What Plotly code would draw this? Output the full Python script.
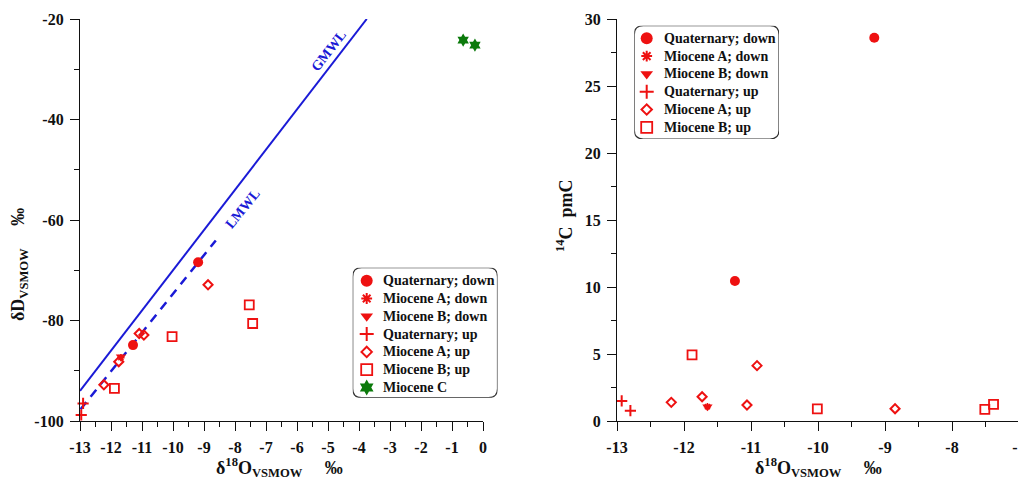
import plotly.graph_objects as go

# page body has an 8px margin, so the figure is sized to fill the rest of the window
OFF = 8
FW, FH = 1026 - OFF, 480 - OFF

# ---------------- data: left panel (delta18O vs deltaD, permil) ----------------
Q_DOWN_O18 = [-11.29, -9.19]
Q_DOWN_D = [-84.9, -68.4]
MA_DOWN_O18 = [-11.68]
MA_DOWN_D = [-87.4]
MB_DOWN_O18 = [-11.68]
MB_DOWN_D = [-87.2]
Q_UP_O18 = [-12.90, -12.96]
Q_UP_D = [-96.5, -98.8]
MA_UP_O18 = [-12.23, -11.75, -11.09, -10.94, -8.87]
MA_UP_D = [-92.8, -88.2, -82.6, -82.9, -72.9]
MB_UP_O18 = [-11.89, -10.03, -7.54, -7.43]
MB_UP_D = [-93.5, -83.2, -76.9, -80.6]
MC_O18 = [-0.64, -0.26]
MC_D = [-24.2, -25.2]

# meteoric water lines (deltaD = slope * delta18O + intercept)
GMWL_SLOPE, GMWL_INTERCEPT = 8.0, 10.0
GMWL_O18 = [-13.0, -3.75]
LMWL_SLOPE, LMWL_INTERCEPT = 7.7, 2.3
LMWL_O18 = [-12.98, -8.62]

# ---------------- data: right panel (delta18O vs 14C, pmC) ----------------
C_Q_DOWN_O18 = [-11.24, -9.16]
C_Q_DOWN = [10.45, 28.6]
C_MA_DOWN_O18 = [-11.65]
C_MA_DOWN = [1.07]
C_MB_DOWN_O18 = [-11.65]
C_MB_DOWN = [1.07]
C_Q_UP_O18 = [-12.93, -12.80]
C_Q_UP = [1.5, 0.77]
C_MA_UP_O18 = [-12.19, -11.73, -11.06, -10.91, -8.85]
C_MA_UP = [1.39, 1.81, 1.19, 4.13, 0.92]
C_MB_UP_O18 = [-11.88, -10.01, -7.51, -7.38]
C_MB_UP = [4.93, 0.90, 0.87, 1.24]

# ticks
LEFT_X_TICKS = list(range(-13, 1))
LEFT_Y_TICKS = [-100, -80, -60, -40, -20]
RIGHT_X_TICKS = list(range(-13, -6))
RIGHT_Y_TICKS = [0, 5, 10, 15, 20, 25, 30]

GROUP_NAMES = ["Quaternary; down", "Miocene A; down", "Miocene B; down",
               "Quaternary; up", "Miocene A; up", "Miocene B; up", "Miocene C"]

# ---------------- styles ----------------
RED = "#ee1111"
GREEN = "#0b7a0b"
BLUE = "#1a1ad6"
FONT = "Liberation Serif"

STYLE = {
    "Quaternary; down": dict(symbol="circle", size=10, color=RED, line=dict(width=0, color=RED)),
    "Miocene A; down": dict(symbol="asterisk-open", size=6, color=RED, line=dict(width=1.6, color=RED)),
    "Miocene B; down": dict(symbol="triangle-down", size=9, color=RED, line=dict(width=0, color=RED)),
    "Quaternary; up": dict(symbol="cross-thin-open", size=8, color=RED, line=dict(width=2, color=RED)),
    "Miocene A; up": dict(symbol="diamond-open", size=7, color=RED, line=dict(width=2, color=RED)),
    "Miocene B; up": dict(symbol="square-open", size=9, color=RED, line=dict(width=1.8, color=RED)),
    "Miocene C": dict(symbol="hexagram", size=10, color=GREEN, line=dict(width=0, color=GREEN)),
}
LEGEND_SIZE = {"Quaternary; down": 12, "Miocene A; down": 9, "Miocene B; down": 11,
               "Quaternary; up": 10, "Miocene A; up": 8, "Miocene B; up": 11, "Miocene C": 12}


def px_x(p):
    return (p - OFF) / FW


def px_y(p):
    return 1 - (p - OFF) / FH


fig = go.Figure()

# meteoric water lines
fig.add_trace(go.Scatter(x=GMWL_O18, y=[GMWL_SLOPE * v + GMWL_INTERCEPT for v in GMWL_O18],
                         mode="lines", line=dict(color=BLUE, width=2), showlegend=False,
                         xaxis="x", yaxis="y", hoverinfo="skip"))
fig.add_trace(go.Scatter(x=LMWL_O18, y=[LMWL_SLOPE * v + LMWL_INTERCEPT for v in LMWL_O18],
                         mode="lines", line=dict(color=BLUE, width=2.5, dash="9px,7px"), showlegend=False,
                         xaxis="x", yaxis="y", hoverinfo="skip"))

left_series = [
    ("Quaternary; down", Q_DOWN_O18, Q_DOWN_D),
    ("Miocene A; down", MA_DOWN_O18, MA_DOWN_D),
    ("Miocene B; down", MB_DOWN_O18, MB_DOWN_D),
    ("Quaternary; up", Q_UP_O18, Q_UP_D),
    ("Miocene A; up", MA_UP_O18, MA_UP_D),
    ("Miocene B; up", MB_UP_O18, MB_UP_D),
    ("Miocene C", MC_O18, MC_D),
]
right_series = [
    ("Quaternary; down", C_Q_DOWN_O18, C_Q_DOWN),
    ("Miocene A; down", C_MA_DOWN_O18, C_MA_DOWN),
    ("Miocene B; down", C_MB_DOWN_O18, C_MB_DOWN),
    ("Quaternary; up", C_Q_UP_O18, C_Q_UP),
    ("Miocene A; up", C_MA_UP_O18, C_MA_UP),
    ("Miocene B; up", C_MB_UP_O18, C_MB_UP),
]

for name, xs, ys in left_series:
    fig.add_trace(go.Scatter(x=xs, y=ys, mode="markers", name=name, marker=STYLE[name],
                             xaxis="x", yaxis="y", showlegend=False, cliponaxis=False))
for name, xs, ys in right_series:
    fig.add_trace(go.Scatter(x=xs, y=ys, mode="markers", name=name, marker=STYLE[name],
                             xaxis="x2", yaxis="y2", showlegend=False, cliponaxis=False))

# ---------------- legends (boxes drawn in their own pixel-unit axes) ----------------
LEG_ROW = 17.8
LEG_BOXES = [  # (xaxis, yaxis, left, top, right, bottom, first row centre, marker x, text x, n)
    ("x3", "y3", 352.7, 267.7, 497.5, 397.7, 13.0, 14.0, 28.0, 7),
    ("x4", "y4", 634.3, 25.7, 779.0, 139.0, 12.6, 12.4, 27.4, 6),
]
shapes = []
annotations = []
for xa, ya, l, t, r, b, first, mx, tx, n in LEG_BOXES:
    w, h = r - l, b - t
    rad = 9
    path = (f"M {rad},0 L {w - rad},0 Q {w},0 {w},{rad} L {w},{h - rad} Q {w},{h} {w - rad},{h} "
            f"L {rad},{h} Q 0,{h} 0,{h - rad} L 0,{rad} Q 0,0 {rad},0 Z")
    shapes.append(dict(type="path", path=path, xref=xa, yref=ya,
                       line=dict(color="#333333", width=1.2), fillcolor="rgba(0,0,0,0)"))
    for i, name in enumerate(GROUP_NAMES[:n]):
        st = dict(STYLE[name])
        st["size"] = LEGEND_SIZE[name]
        if name == "Miocene A; down":
            st["line"] = dict(width=2, color=RED)
        fig.add_trace(go.Scatter(x=[mx], y=[first + i * LEG_ROW], mode="markers", marker=st,
                                 xaxis=xa, yaxis=ya, showlegend=False, hoverinfo="skip",
                                 cliponaxis=False))
        annotations.append(dict(x=tx, y=first + i * LEG_ROW, xref=xa, yref=ya, text=name,
                                showarrow=False, xanchor="left", yanchor="middle",
                                font=dict(family=FONT, size=14, color="#111111", weight="bold")))

# line labels
annotations.append(dict(x=-5.0, y=-26.4, xref="x", yref="y", text="GMWL", showarrow=False,
                        textangle=-52, font=dict(family=FONT, size=14, color=BLUE, weight="bold")))
annotations.append(dict(x=-7.74, y=-57.8, xref="x", yref="y", text="LMWL", showarrow=False,
                        textangle=-51, font=dict(family=FONT, size=14, color=BLUE, weight="bold")))

# axis titles
TF = dict(family=FONT, size=18, color="#111111", weight="bold")
NB = "\u00a0"
annotations += [
    dict(x=px_x(279), y=px_y(467), xref="paper", yref="paper", showarrow=False,
         text=f"δ<sup>18</sup>O<sub>VSMOW</sub>{NB*5}‰", font=TF, xanchor="center", yanchor="middle"),
    dict(x=px_x(818), y=px_y(467), xref="paper", yref="paper", showarrow=False,
         text=f"δ<sup>18</sup>O<sub>VSMOW</sub>{NB*5}‰", font=TF, xanchor="center", yanchor="middle"),
    dict(x=px_x(19), y=px_y(265), xref="paper", yref="paper", showarrow=False, textangle=-90,
         text=f"δD<sub>VSMOW</sub>{NB*5}‰", font=TF, xanchor="center", yanchor="middle"),
    dict(x=px_x(565), y=px_y(216), xref="paper", yref="paper", showarrow=False, textangle=-90,
         text=f"<sup>14</sup>C{NB*2}pmC", font=TF, xanchor="center", yanchor="middle"),
]

TICKF = dict(family=FONT, size=16, color="#111111", weight="bold")


def axis(domain, rng, ticks, minor_dtick, anchor):
    return dict(domain=domain, range=rng, anchor=anchor, tickmode="array", tickvals=ticks,
                ticktext=[str(v) for v in ticks], ticks="outside", ticklen=9, tickwidth=1.3,
                tickcolor="#111111", showline=True, linecolor="#111111", linewidth=1.3,
                showgrid=False, zeroline=False, tickfont=TICKF, fixedrange=True,
                ticklabelstandoff=3,
                minor=dict(tickmode="linear", tick0=0, dtick=minor_dtick, ticks="outside",
                           ticklen=5, tickwidth=1.2, tickcolor="#111111", showgrid=False))


ydom = [px_y(421), px_y(19)]
layout = dict(
    width=FW, height=FH, margin=dict(l=0, r=0, t=0, b=0), template="none",
    paper_bgcolor="white", plot_bgcolor="rgba(0,0,0,0)", showlegend=False,
    xaxis=axis([px_x(80), px_x(483)], [-13, 0], LEFT_X_TICKS, 0.5, "y"),
    yaxis=axis(ydom, [-100, -20], LEFT_Y_TICKS, 10, "x"),
    xaxis2=axis([px_x(617), px_x(1019)], [-13, -7], RIGHT_X_TICKS, 0.5, "y2"),
    yaxis2=axis(ydom, [0, 30], RIGHT_Y_TICKS, 2.5, "x2"),
    shapes=shapes, annotations=annotations,
)
for k, (xa, ya, l, t, r, b, *_rest) in zip((3, 4), LEG_BOXES):
    layout[f"xaxis{k}"] = dict(domain=[px_x(l), px_x(r)], range=[0, r - l], visible=False,
                               anchor=f"y{k}", fixedrange=True)
    layout[f"yaxis{k}"] = dict(domain=[px_y(b), px_y(t)], range=[b - t, 0], visible=False,
                               anchor=f"x{k}", fixedrange=True)

fig.update_layout(**layout)
fig.write_html("out.html")
